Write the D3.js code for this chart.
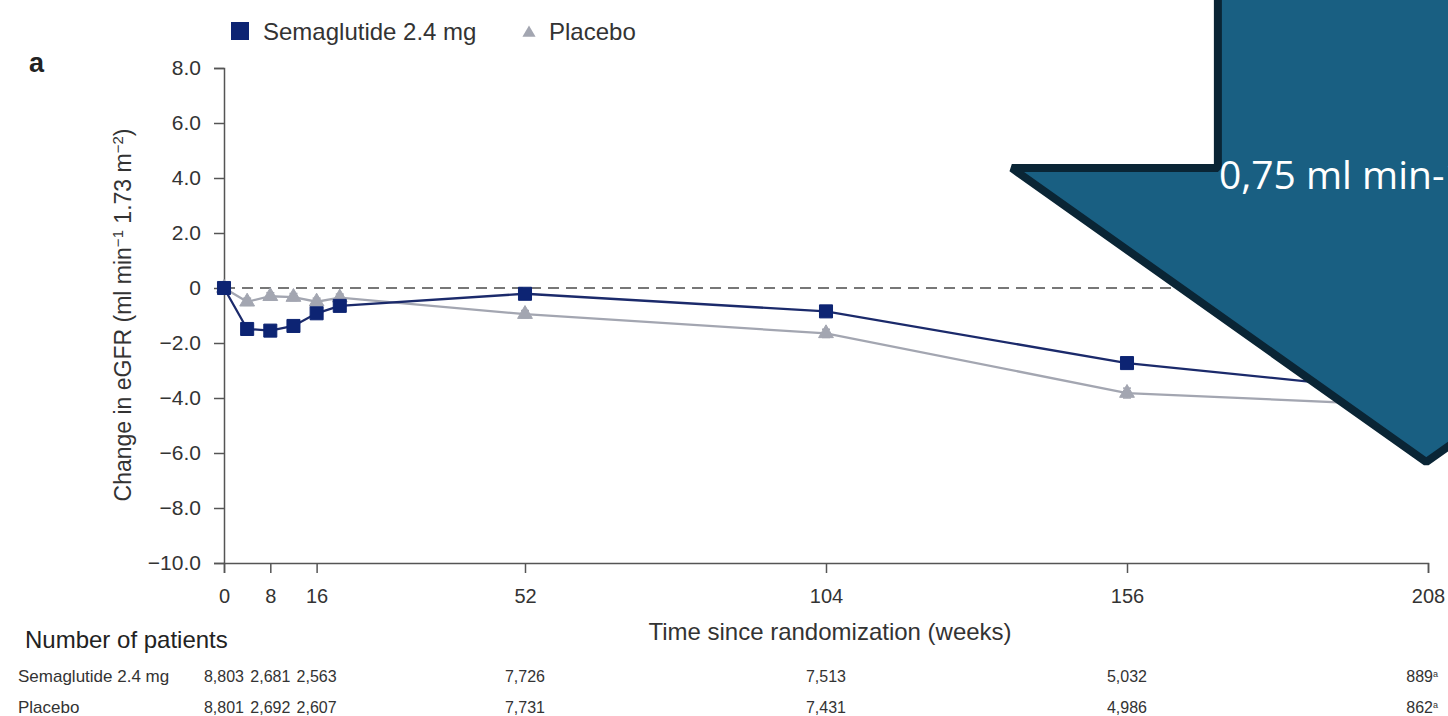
<!DOCTYPE html>
<html>
<head>
<meta charset="utf-8">
<script src="https://cdn.jsdelivr.net/npm/d3@7"></script>
<style>
  body { margin: 0; background: #fff; }
  svg { display: block; }
</style>
</head>
<body>
<div id="chart"></div>
<script>
// weeks since randomization
var weeks = [0, 4, 8, 12, 16, 20, 52, 104, 156, 208];
// change in eGFR
var semaglutide = [0, -1.49, -1.55, -1.38, -0.92, -0.65, -0.21, -0.85, -2.73, -3.85];
var placebo = [0, -0.5, -0.3, -0.33, -0.5, -0.35, -0.95, -1.65, -3.82, -4.3];
var semaErr = [0, 0.12, 0.12, 0.12, 0.12, 0.12, 0.12, 0.14, 0.18, 0.3];
var placeboErr = [0, 0.13, 0.13, 0.13, 0.13, 0.13, 0.13, 0.15, 0.18, 0.3];

var yTicks = [-10, -8, -6, -4, -2, 0, 2, 4, 6, 8];
var xTicks = [0, 8, 16, 52, 104, 156, 208];

// number of patients table
var tableWeeks = [0, 8, 16, 52, 104, 156, 208];
var semaN = ["8,803", "2,681", "2,563", "7,726", "7,513", "5,032", "889"];
var placeboN = ["8,801", "2,692", "2,607", "7,731", "7,431", "4,986", "862"];

var w = 1448, h = 716;
var navy = "#0d2473", navyLine = "#1b2a6b", grey = "#a3a6b1";
var font = "'Liberation Sans', Arial, sans-serif";

var svg = d3.select("#chart").append("svg")
  .attr("width", w).attr("height", h)
  .style("font-family", font);

var x = d3.scaleLinear().domain([0, 208]).range([224, 1428]);
var y = d3.scaleLinear().domain([-10, 8]).range([563, 68]);

// panel letter
svg.append("text").attr("x", 29).attr("y", 72)
  .style("font-size", "27px").style("font-weight", "bold").attr("fill", "#222")
  .text("a");

// legend
svg.append("rect").attr("x", 231).attr("y", 22).attr("width", 18).attr("height", 18).attr("fill", navy);
svg.append("text").attr("x", 263).attr("y", 40).style("font-size", "24px").attr("fill", "#333")
  .text("Semaglutide 2.4 mg");
svg.append("path").attr("d", d3.symbol(d3.symbolTriangle, 75)())
  .attr("transform", "translate(529,33)").attr("fill", grey);
svg.append("text").attr("x", 549).attr("y", 40).style("font-size", "24px").attr("fill", "#333")
  .text("Placebo");

// y axis
var yAxis = svg.append("g").attr("transform", "translate(" + x(0) + ",0)")
  .call(d3.axisLeft(y).tickValues(yTicks).tickSize(10).tickPadding(13)
    .tickFormat(function(d) { return d === 0 ? "0" : d3.format(".1f")(d); }));
// x axis
var xAxis = svg.append("g").attr("transform", "translate(0," + y(-10) + ")")
  .call(d3.axisBottom(x).tickValues(xTicks).tickSize(10).tickPadding(16));

[yAxis, xAxis].forEach(function(g) {
  g.select(".domain").attr("stroke", "#555").attr("stroke-width", 1.5);
  g.selectAll(".tick line").attr("stroke", "#555").attr("stroke-width", 1.5);
  g.selectAll(".tick text").attr("fill", "#333").style("font-family", font);
});
yAxis.selectAll(".tick text").style("font-size", "21px");
xAxis.selectAll(".tick text").style("font-size", "20px");

// axis titles
var yTitle = svg.append("text")
  .attr("transform", "translate(131," + 315 + ")rotate(-90)")
  .attr("text-anchor", "middle").style("font-size", "23px").attr("fill", "#333");
yTitle.append("tspan").text("Change in eGFR (ml min");
yTitle.append("tspan").attr("baseline-shift", "super").style("font-size", "15px").text("\u22121");
yTitle.append("tspan").text(" 1.73 m");
yTitle.append("tspan").attr("baseline-shift", "super").style("font-size", "15px").text("\u22122");
yTitle.append("tspan").text(")");

svg.append("text").attr("x", 830).attr("y", 640).attr("text-anchor", "middle")
  .style("font-size", "24px").attr("fill", "#333")
  .text("Time since randomization (weeks)");

// zero reference line
svg.append("line")
  .attr("x1", x(0)).attr("x2", x(208)).attr("y1", y(0)).attr("y2", y(0))
  .attr("stroke", "#777").attr("stroke-width", 2.2).attr("stroke-dasharray", "11,7");

var data = weeks.map(function(wk, i) {
  return { week: wk, sema: semaglutide[i], plac: placebo[i], se: semaErr[i], pe: placeboErr[i] };
});

function drawSeries(key, errKey, color, lineColor, marker) {
  var line = d3.line().x(function(d) { return x(d.week); }).y(function(d) { return y(d[key]); });
  svg.append("path").datum(data).attr("d", line)
    .attr("fill", "none").attr("stroke", lineColor).attr("stroke-width", 2.3);

  var eb = svg.append("g").selectAll("g").data(data.filter(function(d) { return d[errKey] > 0; }))
    .enter().append("g").attr("stroke", color).attr("stroke-width", 1.5);
  eb.append("line")
    .attr("x1", function(d) { return x(d.week); }).attr("x2", function(d) { return x(d.week); })
    .attr("y1", function(d) { return y(d[key] + d[errKey]); })
    .attr("y2", function(d) { return y(d[key] - d[errKey]); });
  [1, -1].forEach(function(s) {
    eb.append("line")
      .attr("x1", function(d) { return x(d.week) - 4; }).attr("x2", function(d) { return x(d.week) + 4; })
      .attr("y1", function(d) { return y(d[key] + s * d[errKey]); })
      .attr("y2", function(d) { return y(d[key] + s * d[errKey]); });
  });

  svg.append("g").selectAll("path").data(data).enter().append("path")
    .attr("d", marker)
    .attr("transform", function(d) { return "translate(" + x(d.week) + "," + y(d[key]) + ")"; })
    .attr("fill", color).attr("stroke", color).attr("stroke-width", 1).attr("stroke-linejoin", "round");
}

drawSeries("plac", "pe", grey, grey, d3.symbol(d3.symbolTriangle, 95)());
drawSeries("sema", "se", navy, navyLine, d3.symbol(d3.symbolSquare, 170)());

// number of patients table
svg.append("text").attr("x", 25).attr("y", 648).style("font-size", "24px").attr("fill", "#222")
  .text("Number of patients");

var rows = [
  { label: "Semaglutide 2.4 mg", values: semaN, yPos: 682 },
  { label: "Placebo", values: placeboN, yPos: 713 }
];
rows.forEach(function(r) {
  svg.append("text").attr("x", 18).attr("y", r.yPos).style("font-size", "17px")
    .attr("fill", "#333").text(r.label);
  r.values.forEach(function(v, i) {
    var t = svg.append("text").attr("x", x(tableWeeks[i])).attr("y", r.yPos)
      .attr("text-anchor", "middle").style("font-size", "16px").attr("fill", "#333");
    t.append("tspan").text(v);
    if (i === r.values.length - 1) {
      t.attr("text-anchor", "end").attr("x", x(tableWeeks[i]) + 10);
      t.append("tspan").attr("baseline-shift", "super").style("font-size", "9px").text("a");
    }
  });
});

// big annotation arrow drawn over the plot (positioned in data space)
var tipWeek = 207.7, tipVal = -6.33, headVal = 4.36, headLeftWeek = 136.1, shaftLeftWeek = 171.7;
var tipX = x(tipWeek), tipY = y(tipVal), headY = y(headVal);
var hlx = x(headLeftWeek), slx = x(shaftLeftWeek);
var arrowPts = [
  [slx, -20], [slx, headY], [hlx, headY], [tipX, tipY],
  [2 * tipX - hlx, headY], [2 * tipX - slx, headY], [2 * tipX - slx, -20]
];
svg.append("path").attr("d", d3.line()(arrowPts) + "Z")
  .attr("fill", "#195f82").attr("stroke", "#0a2535").attr("stroke-width", 8)
  .attr("stroke-linejoin", "bevel");
svg.append("text").attr("x", slx + 1).attr("y", headY + 21)
  .style("font-family", "'Open Sans', 'Noto Sans', sans-serif").style("font-size", "39px")
  .attr("fill", "#fff").text("0,75 ml min-1 1,73 m-2");
</script>
</body>
</html>
